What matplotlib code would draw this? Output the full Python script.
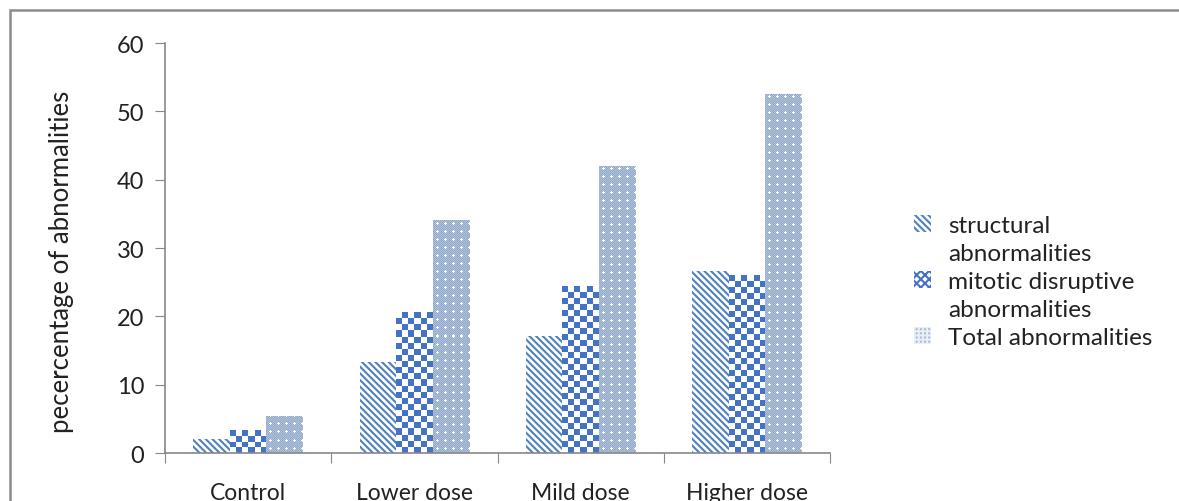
import numpy as np
import matplotlib.pyplot as plt
from matplotlib.colors import ListedColormap, to_rgb
from matplotlib.patches import Rectangle, Patch

categories = ['Control', 'Lower dose', 'Mild dose', 'Higher dose']
structural = [2.0, 13.3, 17.2, 26.6]
mitotic = [3.3, 20.5, 24.4, 26.0]
total = [5.3, 34.0, 42.0, 52.5]
legend_lines = ['structural', 'abnormalities', 'mitotic disruptive', 'abnormalities', 'Total abnormalities']

plt.rcParams['font.family'] = ['Lato', 'DejaVu Sans']
plt.rcParams['hatch.linewidth'] = 1.5

fig = plt.figure(figsize=(11.79, 5.02), dpi=100)
ax = fig.add_axes([0.14, 0.0956, 0.564, 0.8164])

x = np.arange(len(categories))
w = 0.22
px_per_unit = 410 / 60

b1 = ax.bar(x - w, structural, w, facecolor='white', edgecolor='#4F81BD', linewidth=0,
            hatch='\\' * 5)
b2 = ax.bar(x, mitotic, w, facecolor='white', edgecolor='#4472C4', linewidth=0,
            hatch='xxxx')
b3 = ax.bar(x + w, total, w, facecolor='#A8BBD5', edgecolor='#E8EEF6', linewidth=0,
            hatch='++++')

# checkerboard texture over the mitotic bars
cmap = ListedColormap(['white', '#4472C4'])
for rect in b2:
    x0, h, bw = rect.get_x(), rect.get_height(), rect.get_width()
    ny = max(1, int(round(h * px_per_unit / 6)))
    cb = np.add.outer(np.arange(ny), np.arange(6)) % 2
    ax.imshow(cb, extent=[x0, x0 + bw, 0, h], cmap=cmap, interpolation='nearest',
              aspect='auto', origin='lower', zorder=rect.get_zorder() + 0.1)

# dotted texture with small white crosses for the total bars
base = np.array(to_rgb('#AEC0D9'))
dark = np.array(to_rgb('#95ACCB'))
white = np.array([1.0, 1.0, 1.0])
for rect in b3:
    x0, h, bw = rect.get_x(), rect.get_height(), rect.get_width()
    ny = max(1, int(round(h * px_per_unit)))
    nx = 37
    tex = np.tile(base, (ny, nx, 1))
    yy, xx = np.mgrid[0:ny, 0:nx]
    tex[(yy + xx) % 2 == 0] = dark
    cross = ((yy % 8 == 4) & (np.abs(xx % 8 - 4) <= 1)) | ((xx % 8 == 4) & (np.abs(yy % 8 - 4) <= 1))
    tex[cross] = white
    ax.imshow(tex, extent=[x0, x0 + bw, 0, h], interpolation='nearest',
              aspect='auto', origin='lower', zorder=rect.get_zorder() + 0.1)

ax.set_aspect('auto')
ax.set_xlim(-0.5, len(categories) - 0.5)
ax.set_ylim(0, 60)
ax.set_yticks(range(0, 61, 10))

ax.set_xticks(np.arange(-0.5, len(categories), 1.0))
ax.set_xticklabels([])
ax.set_xticks(x, minor=True)
ax.set_xticklabels(categories, minor=True)
ax.tick_params(axis='x', which='major', direction='out', length=7, color='#888888')
ax.tick_params(axis='x', which='minor', length=0, pad=21, labelsize=16.5, labelcolor='#222222')
ax.tick_params(axis='y', direction='out', length=7, color='#888888', pad=8,
               labelsize=17, labelcolor='#222222')

for side in ['top', 'right']:
    ax.spines[side].set_visible(False)
for side in ['left', 'bottom']:
    ax.spines[side].set_color('#888888')
    ax.spines[side].set_linewidth(1.2)

ax.set_ylabel('pecercentage of abnormalities', fontsize=18.5, color='#222222')
ax.yaxis.set_label_coords(-0.137, 0.47)

blank = Patch(facecolor='none', edgecolor='none')
handles = [b1, blank, b2, blank, b3]
fig.legend(handles=handles, labels=legend_lines, loc='upper left',
           bbox_to_anchor=(0.757, 0.614), frameon=False, fontsize=17.5,
           handlelength=0.7, handleheight=0.7, handletextpad=0.7, labelspacing=0.29,
           labelcolor='#222222')

# outer chart frame
fig.patches.append(Rectangle((10 / 1179, -0.2), 1.2, 1.2 - 11 / 502, transform=fig.transFigure,
                             fill=False, edgecolor='#8C8C8C', linewidth=1.8))

fig.savefig('out.png', dpi=100)
